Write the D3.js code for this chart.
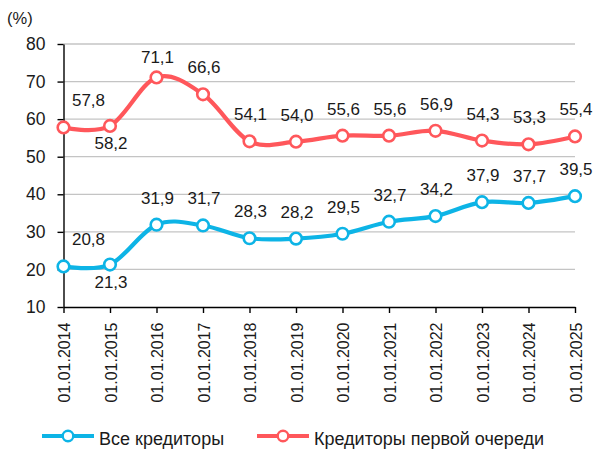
<!DOCTYPE html>
<html>
<head>
<meta charset="utf-8">
<script src="https://cdn.jsdelivr.net/npm/d3@7"></script>
<style>
  body { margin: 0; background: #fff; }
  svg { display: block; font-family: "Liberation Sans", Arial, sans-serif; }
</style>
</head>
<body>
<div id="chart"></div>
<script>
// Dates on the x axis
const dates = ['01.01.2014', '01.01.2015', '01.01.2016', '01.01.2017', '01.01.2018', '01.01.2019',
               '01.01.2020', '01.01.2021', '01.01.2022', '01.01.2023', '01.01.2024', '01.01.2025'];

// Series values (%)
const allCreditors = [20.8, 21.3, 31.9, 31.7, 28.3, 28.2, 29.5, 32.7, 34.2, 37.9, 37.7, 39.5];
const firstPriority = [57.8, 58.2, 71.1, 66.6, 54.1, 54.0, 55.6, 55.6, 56.9, 54.3, 53.3, 55.4];

// Where each value label sits relative to its point
const allCreditorsLabelPos = ['right', 'below', 'above', 'above', 'above', 'above', 'above', 'above', 'above', 'above', 'above', 'above'];
const firstPriorityLabelPos = ['right', 'below', 'near', 'above', 'above', 'above', 'above', 'above', 'above', 'above', 'above', 'above'];

const yTicks = [10, 20, 30, 40, 50, 60, 70, 80];
const seriesNames = ['Все кредиторы', 'Кредиторы первой очереди'];

const width = 596, height = 451;
const colors = { blue: '#0db4e6', red: '#ff575b' };

const svg = d3.select('#chart').append('svg')
    .attr('width', width)
    .attr('height', height);

// Scales
const x = d3.scalePoint().domain(dates).range([63.5, 575]);
const y = d3.scaleLinear().domain([10, 80]).range([307, 44]);

// Unit label
svg.append('text')
    .attr('x', 7)
    .attr('y', 24)
    .attr('font-size', 16.5)
    .attr('fill', '#1a1a1a')
    .text('(%)');

// Grid lines
svg.append('g')
    .selectAll('line')
    .data(yTicks.filter(d => d > 10))
    .join('line')
        .attr('x1', 63.5)
        .attr('x2', 575)
        .attr('y1', d => y(d))
        .attr('y2', d => y(d))
        .attr('stroke', '#c4c4c4')
        .attr('stroke-width', 1.3);

// Y axis
const yAxis = svg.append('g')
    .attr('transform', 'translate(63.5, 0)')
    .call(d3.axisLeft(y).tickValues(yTicks).tickSize(6).tickSizeOuter(0).tickPadding(12));
yAxis.selectAll('text')
    .attr('font-size', 17.5)
    .attr('fill', '#1a1a1a')
    .attr('font-family', '"Liberation Sans", Arial, sans-serif');

// X axis
const xAxis = svg.append('g')
    .attr('transform', 'translate(0, 307)')
    .call(d3.axisBottom(x).tickSize(6).tickSizeOuter(0));
xAxis.selectAll('text')
    .attr('transform', 'rotate(-90)')
    .attr('text-anchor', 'end')
    .attr('x', -15.5)
    .attr('y', 0)
    .attr('dy', '0.38em')
    .attr('font-size', 16)
    .attr('fill', '#1a1a1a')
    .attr('font-family', '"Liberation Sans", Arial, sans-serif');

[yAxis, xAxis].forEach(function(a) {
    a.selectAll('path, line').attr('stroke', '#000').attr('stroke-width', 1.4);
});

// Lines, markers and value labels
const line = d3.line()
    .x((d, i) => x(dates[i]))
    .y(d => y(d))
    .curve(d3.curveCardinal.tension(0));

function drawSeries(values, labelPos, color) {
    const g = svg.append('g');

    g.append('path')
        .datum(values)
        .attr('d', line)
        .attr('fill', 'none')
        .attr('stroke', color)
        .attr('stroke-width', 4.2)
        .attr('stroke-linejoin', 'round');

    g.selectAll('circle')
        .data(values)
        .join('circle')
            .attr('cx', (d, i) => x(dates[i]))
            .attr('cy', d => y(d))
            .attr('r', 5.8)
            .attr('fill', '#fff')
            .attr('stroke', color)
            .attr('stroke-width', 2.6);

    g.selectAll('text')
        .data(values)
        .join('text')
            .attr('x', (d, i) => x(dates[i]) + (labelPos[i] === 'right' ? 25 : 1))
            .attr('y', (d, i) => {
                const p = labelPos[i];
                if (p === 'below') return y(d) + 23.5;
                if (p === 'near') return y(d) - 14;
                return y(d) - 21;
            })
            .attr('text-anchor', 'middle')
            .attr('font-size', 17)
            .attr('fill', '#1a1a1a')
            .text(d => d.toFixed(1).replace('.', ','));
}

drawSeries(firstPriority, firstPriorityLabelPos, colors.red);
drawSeries(allCreditors, allCreditorsLabelPos, colors.blue);

// Legend
const legendItems = [
    { name: seriesNames[0], color: colors.blue, x0: 42 },
    { name: seriesNames[1], color: colors.red, x0: 257 }
];
const legend = svg.append('g').attr('transform', 'translate(0, 436)');
legendItems.forEach(function(item) {
    legend.append('line')
        .attr('x1', item.x0).attr('x2', item.x0 + 52)
        .attr('y1', 0).attr('y2', 0)
        .attr('stroke', item.color)
        .attr('stroke-width', 4.2);
    legend.append('circle')
        .attr('cx', item.x0 + 26).attr('cy', 0)
        .attr('r', 5.3)
        .attr('fill', '#fff')
        .attr('stroke', item.color)
        .attr('stroke-width', 2.4);
    legend.append('text')
        .attr('x', item.x0 + 57)
        .attr('y', 9)
        .attr('font-size', 18)
        .attr('fill', '#1a1a1a')
        .text(item.name);
});
</script>
</body>
</html>
